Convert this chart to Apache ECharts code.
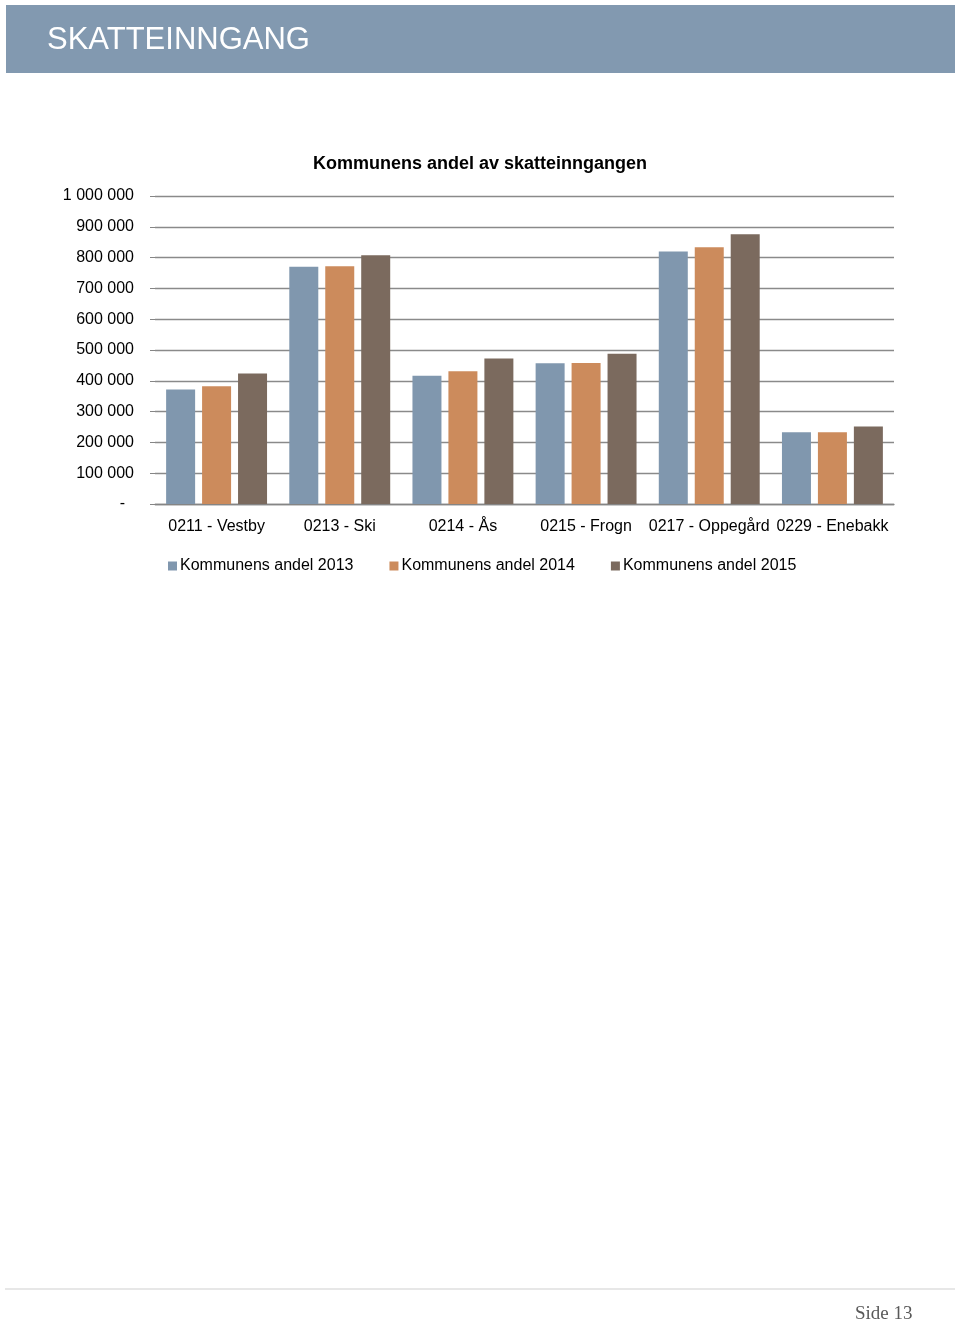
<!DOCTYPE html>
<html>
<head>
<meta charset="utf-8">
<script src="https://cdn.jsdelivr.net/npm/echarts@6/dist/echarts.min.js"></script>
<style>
html,body{margin:0;padding:0;background:#fff;}
#chart{width:960px;height:1320px;}
</style>
</head>
<body>
<div id="chart"></div>
<script>
const categories = ['0211 - Vestby','0213 - Ski','0214 - Ås','0215 - Frogn','0217 - Oppegård','0229 - Enebakk'];
const seriesNames = ['Kommunens andel 2013','Kommunens andel 2014','Kommunens andel 2015'];
const andel2013 = [372000, 770000, 416000, 457000, 820000, 233000];
const andel2014 = [382000, 772000, 431000, 458000, 834000, 233000];
const andel2015 = [424000, 808000, 472000, 488000, 876000, 252000];
const colors = ['#8097ae', '#cc8b5c', '#7b6a5e'];

const chart = echarts.init(document.getElementById('chart'), null, {renderer:'canvas'});
const fmt = v => v === 0 ? '-  ' : String(v).replace(/\B(?=(\d{3})+(?!\d))/g, ' ');
const font = 'Liberation Sans, Arial, sans-serif';

chart.setOption({
  animation: false,
  backgroundColor: '#fff',
  textStyle: {fontFamily: font},
  title: {
    text: 'Kommunens andel av skatteinngangen',
    left: 'center', top: 150,
    textStyle: {fontSize: 18, fontWeight: 'bold', color: '#000', fontFamily: font}
  },
  graphic: [
    {type:'rect', shape:{x:6, y:5, width:949, height:68}, style:{fill:'#8299b0'}},
    {type:'text', left:47, top:25, style:{text:'SKATTEINNGANG', fill:'#fff', font:'31px ' + font}},
    {type:'line', shape:{x1:5, y1:1289, x2:955, y2:1289}, style:{stroke:'#cfcfcf', lineWidth:1}},
    {type:'text', left:855, top:1305, style:{text:'Side 13', fill:'#595959', font:'19px "Liberation Serif", "DejaVu Serif", serif'}}
  ],
  legend: {
    data: seriesNames,
    left: 163, top: 553,
    itemWidth: 9, itemHeight: 9, itemGap: 36,
    icon: 'rect',
    textStyle: {fontSize: 16, color: '#000', fontFamily: font, padding:[0,0,0,-2]}
  },
  grid: {left: 155, right: 66, top: 196, bottom: 816, containLabel: false},
  xAxis: {
    type: 'category', data: categories,
    axisTick: {show: false},
    axisLine: {lineStyle: {color: '#858585', width: 1.3}},
    axisLabel: {color: '#000', fontSize: 16, margin: 15, interval: 0, fontFamily: font}
  },
  yAxis: {
    type: 'value', min: 0, max: 1000000, interval: 100000,
    axisLine: {show: false},
    axisTick: {show: true, length: 5, lineStyle: {color: '#858585'}},
    splitLine: {lineStyle: {color: '#8a8a8a', width: 1.3}},
    axisLabel: {color: '#000', fontSize: 16, margin: 21, formatter: fmt, fontFamily: font, padding:[6,0,0,0]}
  },
  series: [
    {name: seriesNames[0], type: 'bar', data: andel2013, barWidth: 29, barGap: '24%', itemStyle: {color: colors[0]}},
    {name: seriesNames[1], type: 'bar', data: andel2014, barWidth: 29, barGap: '24%', itemStyle: {color: colors[1]}},
    {name: seriesNames[2], type: 'bar', data: andel2015, barWidth: 29, barGap: '24%', itemStyle: {color: colors[2]}}
  ]
});
</script>
</body>
</html>
